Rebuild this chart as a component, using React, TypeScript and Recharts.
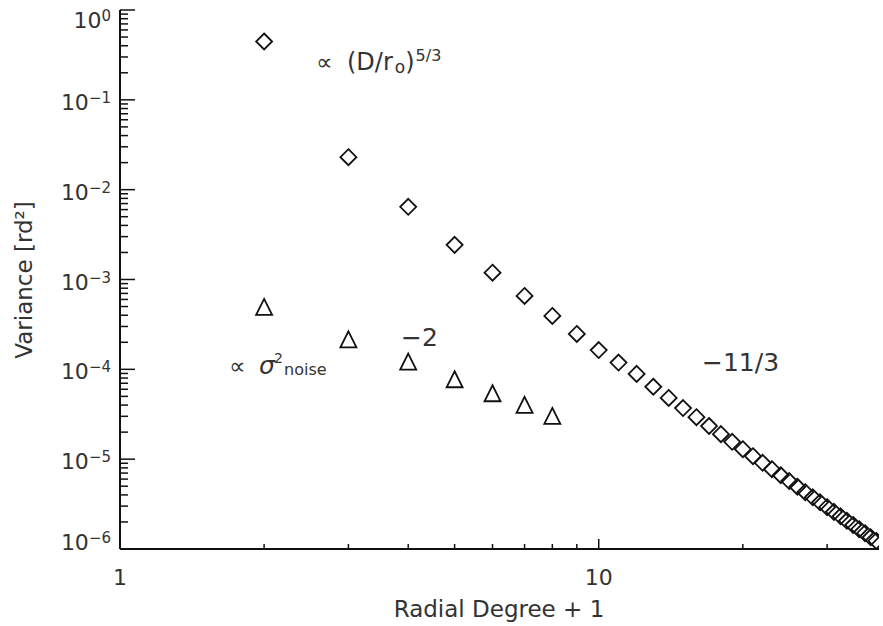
import React from "react";
import { ScatterChart, Scatter, XAxis, YAxis } from "recharts";

// radial degree + 1
const degrees = [
  2, 3, 4, 5, 6, 7, 8, 9, 10, 11, 12, 13, 14, 15, 16, 17, 18, 19, 20, 21, 22,
  23, 24, 25, 26, 27, 28, 29, 30, 31, 32, 33, 34, 35, 36, 37, 38,
];
// total variance (diamonds)
const varianceTotal = [
  0.446, 0.023, 0.00645, 0.00243, 0.00119, 6.56e-4, 3.93e-4, 2.48e-4, 1.64e-4,
  1.19e-4, 8.9e-5, 6.4e-5, 4.8e-5, 3.71e-5, 2.93e-5, 2.34e-5, 1.9e-5, 1.56e-5,
  1.29e-5, 1.08e-5, 9.1e-6, 7.74e-6, 6.62e-6, 5.7e-6, 4.93e-6, 4.29e-6,
  3.76e-6, 3.31e-6, 2.92e-6, 2.59e-6, 2.31e-6, 2.06e-6, 1.85e-6, 1.66e-6,
  1.5e-6, 1.35e-6, 1.23e-6,
];
// noise variance (triangles)
const noiseDegrees = [2, 3, 4, 5, 6, 7, 8];
const varianceNoise = [4.95e-4, 2.16e-4, 1.22e-4, 7.76e-5, 5.42e-5, 4.02e-5, 3.03e-5];

const xTicks = [1, 2, 3, 4, 5, 6, 7, 8, 9, 10, 20, 30];
const xLabels = [1, 10];
const yExponents = [-6, -5, -4, -3, -2, -1, 0];

const yTicks: number[] = [];
for (const e of yExponents) {
  for (let m = 1; m <= 9; m++) {
    const v = Number((m * Math.pow(10, e)).toPrecision(3));
    if (v <= 1) yTicks.push(v);
  }
}

const totalData = degrees.map((d, i) => ({ x: d, y: varianceTotal[i] }));
const noiseData = noiseDegrees.map((d, i) => ({ x: d, y: varianceNoise[i] }));

const FONT = "'DejaVu Sans', sans-serif";
const INK = "#111";
const TXT = "#333";

const isMajorY = (v: number) => {
  const l = Math.log10(v);
  return Math.abs(l - Math.round(l)) < 1e-6;
};

function BottomTick({ x, y, payload }: any) {
  const v = payload.value;
  const major = xLabels.includes(v);
  return (
    <g>
      <line x1={x} x2={x} y1={y} y2={y - (major ? 10 : 5)} stroke={INK} strokeWidth={1.5} />
      {major && (
        <text x={x} y={y + 36} textAnchor="middle" fontSize={22} fontFamily={FONT} fill={TXT}>
          {v}
        </text>
      )}
    </g>
  );
}

function TopTick({ x, y, payload }: any) {
  const major = xLabels.includes(payload.value);
  return <line x1={x} x2={x} y1={y} y2={y + (major ? 10 : 5)} stroke={INK} strokeWidth={1.5} />;
}

function LeftTick({ x, y, payload }: any) {
  const v = payload.value;
  const major = isMajorY(v);
  const e = Math.round(Math.log10(v));
  const dy = e === 0 ? 18 : e === -6 ? 1 : 10;
  return (
    <g>
      <line x1={x} x2={x + (major ? 15 : 8)} y1={y} y2={y} stroke={INK} strokeWidth={1.5} />
      {major && (
        <text x={x - 9} y={y + dy} textAnchor="end" fontSize={22} fontFamily={FONT} fill={TXT}>
          10
          <tspan dy={-7} fontSize={15}>
            {e === 0 ? "0" : "\u2212" + -e}
          </tspan>
        </text>
      )}
    </g>
  );
}

function RightTick({ x, y, payload }: any) {
  const major = isMajorY(payload.value);
  return <line x1={x} x2={x - (major ? 15 : 8)} y1={y} y2={y} stroke={INK} strokeWidth={1.5} />;
}

const Diamond = ({ cx, cy }: any) => (
  <polygon
    points={`${cx},${cy - 8} ${cx + 8},${cy} ${cx},${cy + 8} ${cx - 8},${cy}`}
    fill="none"
    stroke={INK}
    strokeWidth={1.8}
  />
);

const Triangle = ({ cx, cy }: any) => (
  <polygon
    points={`${cx},${cy - 8} ${cx + 8},${cy + 8} ${cx - 8},${cy + 8}`}
    fill="none"
    stroke={INK}
    strokeWidth={1.8}
  />
);

export default function App() {
  const axisLine = { stroke: INK, strokeWidth: 2 };
  return (
    <div style={{ position: "relative", width: 883, height: 626 }}>
      <style>{"body{margin:0}"}</style>
      <ScatterChart width={883} height={626} margin={{ top: 10, right: 4, bottom: 0, left: 0 }}>
        <XAxis
          xAxisId="b"
          type="number"
          dataKey="x"
          scale="log"
          domain={[1, 38.5]}
          allowDataOverflow
          ticks={xTicks}
          interval={0}
          height={77}
          tickSize={0}
          tickMargin={0}
          tickLine={false}
          axisLine={axisLine}
          tick={<BottomTick />}
        />
        <XAxis
          xAxisId="t"
          orientation="top"
          type="number"
          dataKey="x"
          scale="log"
          domain={[1, 38.5]}
          allowDataOverflow
          ticks={xTicks}
          interval={0}
          height={0}
          tickSize={0}
          tickMargin={0}
          tickLine={false}
          axisLine={axisLine}
          tick={<TopTick />}
        />
        <YAxis
          yAxisId="l"
          type="number"
          dataKey="y"
          scale="log"
          domain={[1e-6, 1]}
          allowDataOverflow
          ticks={yTicks}
          interval={0}
          width={120}
          tickSize={0}
          tickMargin={0}
          tickLine={false}
          axisLine={axisLine}
          tick={<LeftTick />}
        />
        <YAxis
          yAxisId="r"
          orientation="right"
          type="number"
          dataKey="y"
          scale="log"
          domain={[1e-6, 1]}
          allowDataOverflow
          ticks={yTicks}
          interval={0}
          width={0}
          tickSize={0}
          tickMargin={0}
          tickLine={false}
          axisLine={axisLine}
          tick={<RightTick />}
        />
        <Scatter xAxisId="b" yAxisId="l" data={totalData} shape={<Diamond />} isAnimationActive={false} />
        <Scatter xAxisId="b" yAxisId="l" data={noiseData} shape={<Triangle />} isAnimationActive={false} />
      </ScatterChart>
      <svg
        width={883}
        height={626}
        style={{ position: "absolute", left: 0, top: 0, pointerEvents: "none" }}
        fontFamily={FONT}
        fill={TXT}
      >
        <text x={499} y={617} textAnchor="middle" fontSize={23}>
          Radial Degree + 1
        </text>
        <text transform="translate(32,280) rotate(-90)" textAnchor="middle" fontSize={23}>
          Variance [rd²]
        </text>
        <text x={316} y={70} fontSize={23}>
          ∝
          <tspan x={347} fontSize={24}>(D/r</tspan>
          <tspan dx={2} dy={3} fontSize={17}>o</tspan>
          <tspan dy={-3} fontSize={24}>)</tspan>
          <tspan dx={1} dy={-9} fontSize={16}>5/3</tspan>
        </text>
        <text x={229} y={374} fontSize={23}>
          ∝
          <tspan x={259} fontSize={25} fontStyle="italic">σ</tspan>
          <tspan x={274} dy={-11} fontSize={14}>2</tspan>
          <tspan x={284} dy={12} fontSize={16}>noise</tspan>
        </text>
        <text x={401} y={346} fontSize={25}>−2</text>
        <text x={702} y={371} fontSize={25}>−11/3</text>
      </svg>
    </div>
  );
}
